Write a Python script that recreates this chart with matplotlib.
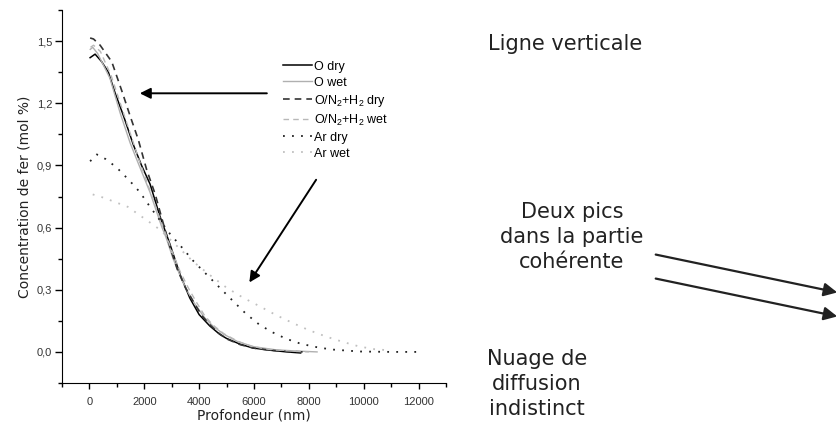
import matplotlib
matplotlib.use('Agg')
import matplotlib.pyplot as plt

plt.rcParams['mathtext.fontset'] = 'custom'
plt.rcParams['mathtext.rm'] = 'Liberation Sans'
plt.rcParams['mathtext.it'] = 'Liberation Sans'

# depth (nm) / iron concentration (mol %)
o_dry_x = [25, 207, 450, 690, 935, 1240, 1600, 1900, 2210, 2570, 2935, 3300, 3660, 4000,
           4390, 4750, 5000, 5500, 5960, 6600, 7200, 7700]
o_dry_y = [1.42, 1.437, 1.40, 1.35, 1.25, 1.14, 1.0, 0.90, 0.81, 0.655, 0.52, 0.375, 0.26, 0.18,
           0.125, 0.085, 0.065, 0.037, 0.019, 0.008, 0.0, -0.005]

o_wet_x = [30, 120, 300, 750, 1115, 1480, 1720, 2210, 2630, 2800, 3050, 3300, 3540, 3850,
           4200, 4500, 4900, 5400, 6000, 6800, 7600, 8300]
o_wet_y = [1.46, 1.47, 1.44, 1.32, 1.155, 1.01, 0.93, 0.77, 0.606, 0.55, 0.45, 0.37, 0.30, 0.23,
           0.165, 0.125, 0.085, 0.05, 0.025, 0.01, 0.004, 0.0]

n2_dry_x = [25, 150, 390, 815, 1180, 1480, 1780, 2085, 2400, 2650, 2950, 3200, 3500, 3800,
            4100, 4400, 4700, 5000, 5500, 6000, 6600, 7300, 7800]
n2_dry_y = [1.515, 1.51, 1.48, 1.40, 1.26, 1.14, 1.025, 0.88, 0.76, 0.64, 0.50, 0.40, 0.31, 0.24,
            0.175, 0.13, 0.092, 0.063, 0.035, 0.018, 0.008, 0.002, 0.0]

n2_wet_x = [40, 150, 400, 800, 1150, 1500, 1800, 2150, 2500, 2750, 3000, 3300, 3600, 3900,
            4200, 4500, 4900, 5400, 5900, 6600, 7400, 8000]
n2_wet_y = [1.47, 1.48, 1.45, 1.33, 1.19, 1.05, 0.93, 0.80, 0.67, 0.58, 0.49, 0.39, 0.31, 0.24,
            0.175, 0.13, 0.088, 0.052, 0.027, 0.011, 0.004, 0.0]

ar_dry_x = [25, 270, 600, 1000, 1480, 1845, 2210, 2600, 2935, 3400, 3780, 4150, 4450, 4900,
            5240, 5700, 6210, 6700, 7180, 7650, 8150, 8800, 9840, 11000, 12130]
ar_dry_y = [0.92, 0.953, 0.93, 0.889, 0.824, 0.77, 0.70, 0.63, 0.57, 0.50, 0.44, 0.39, 0.35, 0.29,
            0.245, 0.185, 0.13, 0.093, 0.063, 0.042, 0.026, 0.012, 0.002, 0.0, 0.0]

ar_wet_x = [120, 500, 1000, 1400, 1720, 2150, 2570, 3200, 3790, 4400, 5000, 5600, 6210, 6800,
            7420, 8000, 8630, 9250, 9840, 10400, 10900]
ar_wet_y = [0.76, 0.745, 0.72, 0.70, 0.67, 0.63, 0.59, 0.51, 0.435, 0.37, 0.31, 0.262, 0.22, 0.178,
            0.139, 0.105, 0.074, 0.048, 0.026, 0.013, 0.008]

x_ticks = [0, 2000, 4000, 6000, 8000, 10000, 12000]
y_ticks = [0.0, 0.3, 0.6, 0.9, 1.2, 1.5]
y_tick_labels = ['0,0', '0,3', '0,6', '0,9', '1,2', '1,5']

fig = plt.figure(figsize=(8.36, 4.24), dpi=100)
ax = fig.add_axes([62 / 836, 1 - 383 / 424, (446 - 62) / 836, (383 - 10) / 424])

ax.plot(o_dry_x, o_dry_y, color='black', lw=1.1, label='O dry')
ax.plot(o_wet_x, o_wet_y, color='#b0b0b0', lw=1.0, label='O wet')
ax.plot(n2_dry_x, n2_dry_y, color='#333333', lw=1.2, ls=(0, (4, 3)), label='O/N$_2$+H$_2$ dry')
ax.plot(n2_wet_x, n2_wet_y, color='#b8b8b8', lw=1.0, ls=(0, (4, 3)), label='O/N$_2$+H$_2$ wet')
ax.plot(ar_dry_x, ar_dry_y, color='#222222', lw=1.3, ls=(0, (1, 4)), label='Ar dry')
ax.plot(ar_wet_x, ar_wet_y, color='#c0c0c0', lw=1.3, ls=(0, (1, 4)), label='Ar wet')

ax.set_xlim(-1000, 13000)
ax.set_ylim(-0.15, 1.65)
ax.set_xticks(x_ticks)
ax.set_xticks(range(-1000, 13001, 1000), minor=True)
ax.set_yticks(y_ticks)
ax.set_yticklabels(y_tick_labels)
ax.set_yticks([-0.15 + 0.15 * i for i in range(13)], minor=True)
for lab in ax.get_xticklabels() + ax.get_yticklabels():
    lab.set_fontfamily('Liberation Sans')
    lab.set_fontsize(8)
    lab.set_color('#333333')
ax.tick_params(axis='x', which='major', direction='out', length=4, width=1, pad=6)
ax.tick_params(axis='x', which='minor', direction='out', length=3, width=1)
ax.tick_params(axis='y', which='major', direction='out', length=5, width=1, pad=2)
ax.tick_params(axis='y', which='minor', direction='out', length=3, width=1)
ax.spines['top'].set_visible(False)
ax.spines['right'].set_visible(False)

ax.set_xlabel('Profondeur (nm)', fontsize=10, family='DejaVu Sans', color='#222222', labelpad=1)
ax.set_ylabel('Concentration de fer (mol %)', fontsize=10, family='DejaVu Sans', color='#222222', labelpad=4)

leg = ax.legend(loc='upper left', bbox_to_anchor=(0.575, 0.864), frameon=False,
                prop={'family': 'Liberation Sans', 'size': 9}, handlelength=2.3,
                handletextpad=0.2, labelspacing=0.32, borderaxespad=0, borderpad=0)

# arrows inside the chart
ax.annotate('', xy=(1735, 1.248), xytext=(6570, 1.248), annotation_clip=False,
            arrowprops=dict(arrowstyle='-|>', mutation_scale=16, lw=1.4, color='black'))
ax.annotate('', xy=(5775, 0.324), xytext=(8320, 0.842), annotation_clip=False,
            arrowprops=dict(arrowstyle='-|>', mutation_scale=16, lw=1.4, color='black'))

# side notes
txt = dict(fontsize=15, family='DejaVu Sans', color='#222222', ha='center', va='center',
           linespacing=1.3)
fig.text(565 / 836, 1 - 44 / 424, 'Ligne verticale', **txt)
fig.text(572 / 836, 1 - 237 / 424, 'Deux pics\ndans la partie\ncohérente', **txt)
fig.text(537 / 836, 1 - 384 / 424, 'Nuage de\ndiffusion\nindistinct', **txt)

for y0, y1 in [(254, 293), (278, 317)]:
    fig.add_artist(matplotlib.patches.FancyArrowPatch(
        (653 / 836, 1 - y0 / 424), (840 / 836, 1 - y1 / 424), transform=fig.transFigure,
        arrowstyle='-|>', mutation_scale=20, lw=1.6, color='#222222'))

fig.savefig('out.png', dpi=100)
